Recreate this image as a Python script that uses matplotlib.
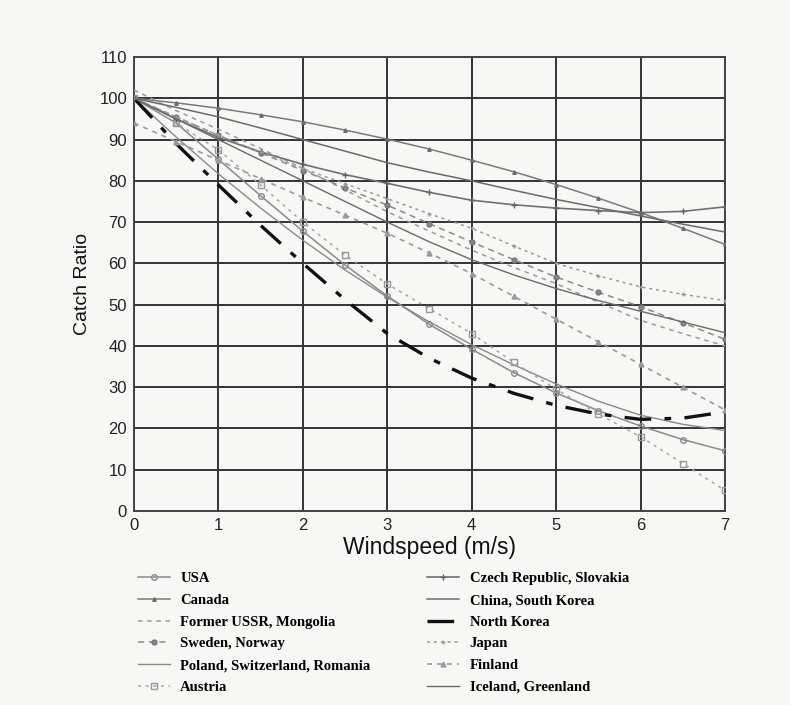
import matplotlib
matplotlib.use("Agg")
import matplotlib.pyplot as plt

# windspeed grid (m/s)
ws = [0, 0.5, 1, 1.5, 2, 2.5, 3, 3.5, 4, 4.5, 5, 5.5, 6, 6.5, 7]

# catch ratio (%)
usa = [100, 94, 85.2, 76.4, 67.8, 59.6, 52.1, 45.2, 39.2, 33.5, 28.6, 24.3, 20.6, 17.3, 14.6]
canada = [100, 98.9, 97.6, 96.0, 94.3, 92.3, 90.1, 87.7, 85.0, 82.2, 79.1, 75.8, 72.3, 68.5, 64.6]
ussr = [102, 97, 92.5, 87.8, 83, 77.8, 72.5, 67.8, 63.2, 59, 55.1, 50.6, 46.2, 43, 40]
sweden = [100, 95.5, 91, 86.8, 82.5, 78.3, 74.1, 69.6, 65.2, 60.9, 56.7, 53, 49.5, 45.6, 41.6]
poland = [100, 90.6, 81.7, 73.4, 65.6, 58.4, 51.8, 45.8, 40.3, 35.4, 30.8, 26.6, 23.2, 21, 19.5]
austria = [100, 94, 87.5, 79, 70, 62, 55, 49, 43, 36, 29.5, 23.5, 18, 11.5, 5]
czech = [100, 95, 90.5, 87, 84, 81.5, 79.4, 77.2, 75.3, 74.2, 73.4, 72.8, 72.3, 72.6, 73.7]
china = [100, 97.8, 95.5, 92.8, 90, 87.2, 84.4, 82.1, 80, 77.7, 75.5, 73.5, 71.5, 69.5, 67.6]
n_korea = [100, 89, 79, 69.2, 60, 51.2, 43, 37, 32.2, 28.5, 25.6, 23.5, 22.2, 22.5, 24]
japan = [100, 95.5, 91, 87, 83, 79.3, 75.7, 72, 68.5, 64.2, 60, 57, 54.3, 52.5, 51]
finland = [94, 89.5, 85, 80.5, 76, 71.7, 67.3, 62.5, 57.5, 52, 46.5, 41, 35.5, 30, 24.5]
iceland = [100, 95, 90, 85, 80, 75, 70, 65.2, 60.9, 57.2, 53.9, 51, 48.4, 45.8, 43.2]

labels_left = ["USA", "Canada", "Former USSR, Mongolia", "Sweden, Norway",
               "Poland, Switzerland, Romania", "Austria"]
labels_right = ["Czech Republic, Slovakia", "China, South Korea", "North Korea",
                "Japan", "Finland", "Iceland, Greenland"]

bg = "#f7f7f5"
fig = plt.figure(figsize=(7.9, 7.05), dpi=100, facecolor=bg)
ax = fig.add_axes([0.1696, 0.2752, 0.7481, 0.6439], facecolor=bg)

series = [
    (usa, dict(color="#8a8a8a", lw=1.1, ls="-", marker="o", ms=4, mfc="none", mec="#8a8a8a")),
    (canada, dict(color="#7a7a7a", lw=1.1, ls="-", marker="^", ms=2.5, mec="#6a6a6a")),
    (ussr, dict(color="#9a9a9a", lw=1.1, ls=(0, (3, 3)))),
    (sweden, dict(color="#8a8a8a", lw=1.1, ls=(0, (4, 3)), marker="o", ms=3.5, mfc="#888888", mec="#777777")),
    (poland, dict(color="#8a8a8a", lw=1.0, ls="-")),
    (austria, dict(color="#a5a5a5", lw=1.1, ls=(0, (2, 3)), marker="s", ms=4, mfc="none", mec="#999999")),
    (czech, dict(color="#707070", lw=1.2, ls="-", marker="+", ms=4, mec="#666666")),
    (china, dict(color="#6a6a6a", lw=1.1, ls="-")),
    (n_korea, dict(color="#111111", lw=2.4, ls=(0, (8, 4, 2, 4)))),
    (japan, dict(color="#9a9a9a", lw=1.1, ls=(0, (2, 2.5)), marker="+", ms=3.5, mec="#999999")),
    (finland, dict(color="#9a9a9a", lw=1.2, ls=(0, (3, 3)), marker="^", ms=3.5, mfc="#999999", mec="#999999")),
    (iceland, dict(color="#6a6a6a", lw=1.0, ls="-")),
]
labels = labels_left + labels_right

for (vals, style), lab in zip(series, labels):
    ax.plot(ws, vals, label=lab, zorder=3, **style)

ax.set_xlim(0, 7)
ax.set_ylim(0, 110)
ax.set_xticks(range(0, 8))
ax.set_yticks(range(0, 111, 10))
ax.grid(True, color="#333333", lw=1.4, zorder=1)
ax.set_axisbelow(True)
for sp in ax.spines.values():
    sp.set_color("#444444")
    sp.set_linewidth(1.4)
ax.tick_params(length=0, pad=5, labelsize=12, colors="#222222")
for t in ax.get_xticklabels() + ax.get_yticklabels():
    t.set_fontfamily("Liberation Sans")

ax.set_xlabel("Windspeed (m/s)", fontsize=16.5, family="Liberation Sans", labelpad=2, color="#111111")
ax.set_ylabel("Catch Ratio", fontsize=14, family="Liberation Sans", labelpad=6, color="#111111")

fig.legend(loc="upper left", bbox_to_anchor=(0.158, 0.207), ncol=2, frameon=False,
           prop=dict(family="Liberation Serif", weight="bold", size=10.5),
           handlelength=2.2, handletextpad=0.7, columnspacing=3.9, labelspacing=0.58)

fig.savefig("out.png", dpi=100, facecolor=bg)
